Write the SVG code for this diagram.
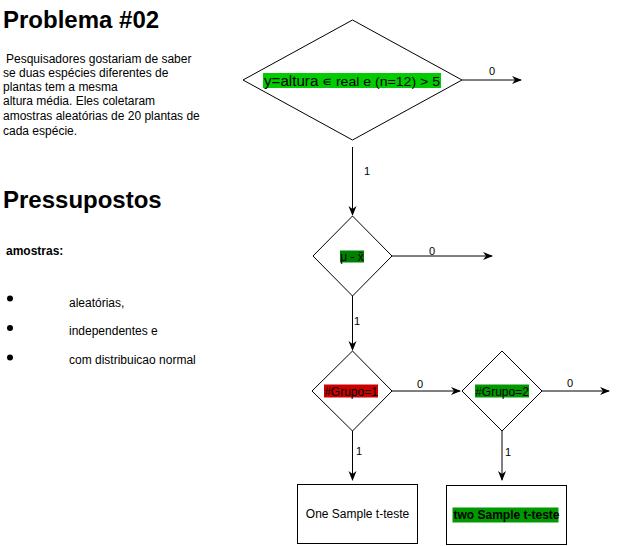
<svg xmlns="http://www.w3.org/2000/svg" width="618" height="546" viewBox="0 0 618 546">
<style>
text{font-family:"Liberation Sans",Arial,sans-serif;fill:#000}
.h{font-size:24px;font-weight:bold}
.p{font-size:12px}
.lbl{font-size:11px;fill:#000}
.shape{fill:#fff;stroke:#000;stroke-width:1}
.edge{stroke:#000;stroke-width:1;fill:none;marker-end:url(#arr)}
.nt{font-size:12px;text-anchor:middle;fill:#000}
</style>
<defs>
<marker id="arr" viewBox="0 0 10 10" refX="9" refY="5" markerWidth="10" markerHeight="10" markerUnits="userSpaceOnUse" orient="auto">
<path d="M0,1 L10,5 L0,9 L3,5 Z" fill="#000"/>
</marker>
</defs>

<g id="title">
<text class="h" x="3" y="28">Problema #02</text>
</g>
<g id="problem-text">
<text class="p" x="6" y="63">Pesquisadores gostariam de saber</text>
<text class="p" x="3" y="77">se duas espécies diferentes de</text>
<text class="p" x="3" y="91">plantas tem a mesma</text>
<text class="p" x="3" y="105">altura média. Eles coletaram</text>
<text class="p" x="3" y="120">amostras aleatórias de 20 plantas de</text>
<text class="p" x="3" y="135">cada espécie.</text>
</g>
<g id="pressupostos">
<text class="h" x="3" y="208">Pressupostos</text>
<text class="p" x="6" y="255" font-weight="bold">amostras:</text>
<circle cx="10" cy="298.5" r="3"/>
<circle cx="10" cy="328" r="3"/>
<circle cx="10" cy="357.5" r="3"/>
<text class="p" x="69" y="307">aleatórias,</text>
<text class="p" x="69" y="335">independentes e</text>
<text class="p" x="69" y="364">com distribuicao normal</text>
</g>

<g id="connectors">
<path class="edge" d="M462,80 L521,80"/>
<text class="lbl" x="489" y="75">0</text>
<path class="edge" d="M352.5,147 L352.5,215"/>
<text class="lbl" x="364" y="175">1</text>
<path class="edge" d="M392,256 L492,256"/>
<text class="lbl" x="429" y="255">0</text>
<path class="edge" d="M352.5,296 L352.5,350"/>
<text class="lbl" x="354" y="325">1</text>
<path class="edge" d="M392,391 L460,391"/>
<text class="lbl" x="417" y="388">0</text>
<path class="edge" d="M542,391 L609,391"/>
<text class="lbl" x="567" y="387">0</text>
<path class="edge" d="M352.5,430 L352.5,480"/>
<text class="lbl" x="356" y="455">1</text>
<path class="edge" d="M502,430 L502,480"/>
<text class="lbl" x="505" y="456">1</text>
</g>

<g id="node-cond1">
<polygon class="shape" points="352.5,20 462,80 352.5,140 243,80"/>
<rect x="263" y="73" width="178" height="15" fill="#00CC00"/>
<text x="264" y="86" fill="#1a1a1a" font-size="13" textLength="176" lengthAdjust="spacingAndGlyphs"><tspan font-size="14">y=altura</tspan> ∊ real e (n=12) &gt; 5</text>
</g>

<g id="node-mu">
<polygon class="shape" points="352.5,216 392,256 352.5,296 313,256"/>
<rect x="340" y="250.5" width="24" height="12" fill="#008000"/>
<text class="nt" x="352" y="260.5">μ - x̄</text>
</g>

<g id="node-grupo1">
<polygon class="shape" points="352.5,351 392,391 352.5,431 312,391"/>
<rect x="324" y="384.5" width="54" height="13" fill="#CC0000"/>
<text class="nt" x="351" y="395.5">#Grupo=1</text>
</g>

<g id="node-grupo2">
<polygon class="shape" points="502,351 542,391 502,431 462,391"/>
<rect x="475" y="384.5" width="54" height="13" fill="#009900"/>
<text class="nt" x="502" y="395.5">#Grupo=2</text>
</g>

<g id="node-one-sample">
<rect class="shape" x="297.5" y="484.5" width="120" height="59"/>
<text class="nt" x="357.5" y="518">One Sample t-teste</text>
</g>

<g id="node-two-sample">
<rect class="shape" x="446.5" y="485.5" width="120" height="59"/>
<rect x="452.5" y="507.5" width="106" height="15" fill="#009900"/>
<text class="nt" x="506.5" y="519" font-weight="bold">two Sample t-teste</text>
</g>
</svg>
